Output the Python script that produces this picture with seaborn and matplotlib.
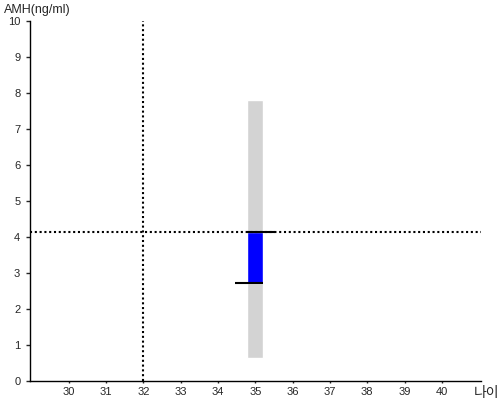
import seaborn as sns
import matplotlib.pyplot as plt
import pandas as pd

# AMH reference range and patient value
age_pos = [35]
range_low = [0.65]
range_high = [7.8]
val_low = [2.73]
val_high = [4.13]
ref_age = 32
ref_amh = 4.13
xticks = [30, 31, 32, 33, 34, 35, 36, 37, 38, 39, 40]
yticks = [0, 1, 2, 3, 4, 5, 6, 7, 8, 9, 10]

sns.set_style("white")
plt.rcParams['font.family'] = ['Liberation Sans', 'Noto Sans CJK KR', 'DejaVu Sans']

fig = plt.figure(figsize=(5, 4), dpi=100)
ax = fig.add_axes([0.06, 0.0475, 0.902, 0.9])

gray = pd.DataFrame({"age": age_pos, "h": [h - l for h, l in zip(range_high, range_low)]})
blue = pd.DataFrame({"age": age_pos, "h": [h - l for h, l in zip(val_high, val_low)]})

sns.barplot(data=gray, x="age", y="h", bottom=range_low, native_scale=True,
            width=0.43, color="#d3d3d3", saturation=1, errorbar=None, ax=ax, zorder=1)
sns.barplot(data=blue, x="age", y="h", bottom=val_low, native_scale=True,
            width=0.43, color="#0000ff", saturation=1, errorbar=None, ax=ax, zorder=2)

# black markers at the blue bar ends
ax.hlines([val_high[0]], [age_pos[0] - 0.215], [age_pos[0] + 0.52], color="black", lw=1.5, zorder=4)
ax.hlines([val_low[0]], [age_pos[0] - 0.535], [age_pos[0] + 0.215], color="black", lw=1.5, zorder=4)

dot = (0, (1, 1.3))
ax.axvline(ref_age, color="black", lw=1.5, linestyle=dot, zorder=3)
ax.axhline(ref_amh, color="black", lw=1.5, linestyle=dot, zorder=3)

ax.set_xlim(28.96, 41.05)
ax.set_ylim(0, 10)
ax.set_xticks(xticks)
ax.set_yticks(yticks)
ax.set_xlabel("")
ax.set_ylabel("")
ax.tick_params(axis="y", length=3, width=1, pad=4, labelsize=8, left=True)
ax.tick_params(axis="x", length=1.5, width=1, pad=3, labelsize=8, bottom=True)
for s in ["top", "right"]:
    ax.spines[s].set_visible(False)
for s in ["left", "bottom"]:
    ax.spines[s].set_color("black")
    ax.spines[s].set_linewidth(1)
ax.grid(False)

fig.text(0.008, 0.975, "AMH(ng/ml)", fontsize=9, va="center", ha="left")
fig.text(0.948, 0.018, "나이", fontsize=10, va="center", ha="left")

fig.savefig("out.png", dpi=100)
